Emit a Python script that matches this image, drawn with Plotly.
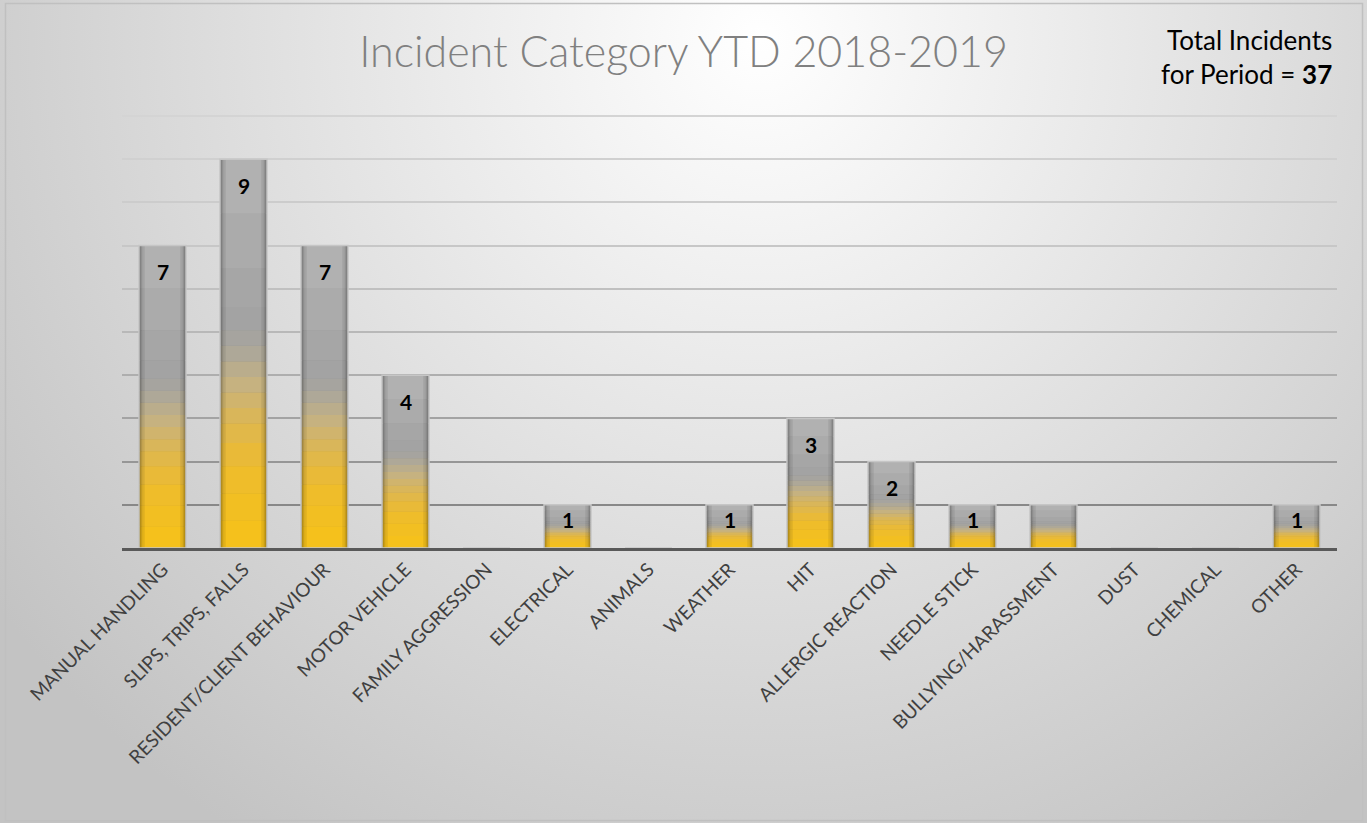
import base64
import plotly.graph_objects as go

# data
categories = ["MANUAL HANDLING", "SLIPS, TRIPS, FALLS", "RESIDENT/CLIENT BEHAVIOUR",
              "MOTOR VEHICLE", "FAMILY AGGRESSION", "ELECTRICAL", "ANIMALS", "WEATHER",
              "HIT", "ALLERGIC REACTION", "NEEDLE STICK", "BULLYING/HARASSMENT",
              "DUST", "CHEMICAL", "OTHER"]
incidents = [7, 9, 7, 4, 0, 1, 0, 1, 3, 2, 1, 1, 0, 0, 1]
bar_labels = ["7", "9", "7", "4", "", "1", "", "1", "3", "2", "1", "", "", "", "1"]
total_incidents = 37
grid_levels = [1, 2, 3, 4, 5, 6, 7, 8, 9, 10]

# styling
W, H = 1367, 823
grid_colors = ["#888888", "#969696", "#A3A3A3", "#AEAEAE", "#B8B8B8",
               "#C0C0C0", "#C7C7C7", "#CCCCCC", "#D0D0D0", "#D4D4D4"]
key_colors = [(0.0, (247, 194, 24)), (0.2, (238, 188, 44)), (0.32, (222, 183, 80)),
              (0.42, (198, 178, 128)), (0.5, (174, 168, 152)), (0.56, (162, 162, 162)),
              (1.0, (180, 180, 180))]
seg_edges = [0, 0.07, 0.14, 0.21, 0.27, 0.32, 0.36, 0.40, 0.44, 0.48, 0.52,
             0.56, 0.62, 0.72, 0.86, 1.0]
layers = [(0.58, 0.60), (0.565, 0.70), (0.54, 0.82), (0.50, 0.92), (0.44, 1.0)]
y_top = 10.1
px_per_unit = 43.2


def shade(t, k):
    for (t0, c0), (t1, c1) in zip(key_colors, key_colors[1:]):
        if t <= t1:
            f = (t - t0) / (t1 - t0)
            c = [c0[i] + (c1[i] - c0[i]) * f for i in range(3)]
            break
    return "rgb(%d,%d,%d)" % tuple(min(255, round(x * k)) for x in c)


bg_svg = f"""<svg xmlns='http://www.w3.org/2000/svg' width='{W}' height='{H}'>
<defs><radialGradient id='g' gradientUnits='userSpaceOnUse' cx='760' cy='40' r='950'>
<stop offset='0' stop-color='#FFFFFF'/><stop offset='0.35' stop-color='#EAEAEA'/>
<stop offset='0.7' stop-color='#D5D5D5'/><stop offset='1' stop-color='#C3C3C3'/>
</radialGradient></defs>
<rect width='{W}' height='{H}' fill='url(#g)'/>
<rect x='5.5' y='3.5' width='{W - 10}' height='{H - 6}' fill='none' stroke='#C0C0C0' stroke-width='1.5'/>
</svg>"""
bg_uri = "data:image/svg+xml;base64," + base64.b64encode(bg_svg.encode()).decode()

fig = go.Figure()

# bars built from stacked colour bands to mimic the gradient fill
for width, k in layers:
    for a, b in zip(seg_edges, seg_edges[1:]):
        fig.add_trace(go.Bar(
            x=categories,
            y=[v * (b - a) for v in incidents],
            base=[v * a for v in incidents],
            width=width,
            marker=dict(color=shade((a + b) / 2, k), line=dict(width=0)),
            hoverinfo="skip", showlegend=False))

# outline
fig.add_trace(go.Bar(
    x=categories, y=incidents, width=0.58,
    marker=dict(color="rgba(0,0,0,0)", line=dict(color="#C6C6C6", width=1.5)),
    showlegend=False, hovertemplate="%{x}: %{y}<extra></extra>"))

x_dom = [122 / W, 1337 / W]
y_dom = [(H - 548) / H, (H - (116 - (y_top - 10) * px_per_unit)) / H]

# one overlay axis per gridline so each can take its own shade
layout_axes = {}
for i, (lvl, col) in enumerate(zip(grid_levels, grid_colors)):
    name = f"y{i + 2}"
    fig.add_trace(go.Scatter(x=[], y=[], yaxis=name, showlegend=False, hoverinfo="skip"))
    layout_axes[f"yaxis{i + 2}"] = dict(
        overlaying="y", anchor="x", domain=y_dom, range=[0, y_top], tickvals=[lvl],
        showticklabels=False, showgrid=True, gridcolor=col, gridwidth=2,
        zeroline=False, showline=False, ticks="", automargin=False)

annotations = [dict(x=c, y=v, xref="x", yref="y", text=f"<b>{t}</b>", showarrow=False,
                    yanchor="middle", yshift=-min(26, 15 * v),
                    font=dict(family="Lato", size=21, color="#000000"))
               for c, v, t in zip(categories, incidents, bar_labels) if t]
annotations.append(dict(text=f"Total Incidents<br>for Period = <b>{total_incidents}</b>",
                        xref="paper", yref="paper", x=1334 / W, y=1 - 57 / H,
                        xanchor="right", yanchor="middle", align="right", showarrow=False,
                        font=dict(family="Lato", size=26, color="#000000")))

fig.update_layout(
    width=W, height=H,
    margin=dict(l=0, r=0, t=0, b=0, autoexpand=False),
    paper_bgcolor="#E0E0E0", plot_bgcolor="rgba(0,0,0,0)",
    barmode="overlay",
    title=dict(text="Incident Category YTD 2018-2019", x=0.5, xanchor="center",
               y=1 - 52 / H, yanchor="middle",
               font=dict(family="Lato", size=43, color="#808080", weight=300)),
    xaxis=dict(domain=x_dom, tickangle=-45, showgrid=False, showline=True,
               linecolor="#595959", linewidth=3, ticks="", automargin=False,
               tickfont=dict(family="Lato", size=19, color="#404040")),
    yaxis=dict(domain=y_dom, range=[0, y_top], showgrid=False, showticklabels=False,
               zeroline=False, ticks="", automargin=False),
    images=[dict(source=bg_uri, xref="paper", yref="paper", x=0, y=1,
                 sizex=1, sizey=1, sizing="stretch", layer="below")],
    annotations=annotations,
    **layout_axes,
)

fig.write_html("out.html", config={"displayModeBar": False},
               post_script="document.body.style.margin='0';document.body.style.overflow='hidden';")
